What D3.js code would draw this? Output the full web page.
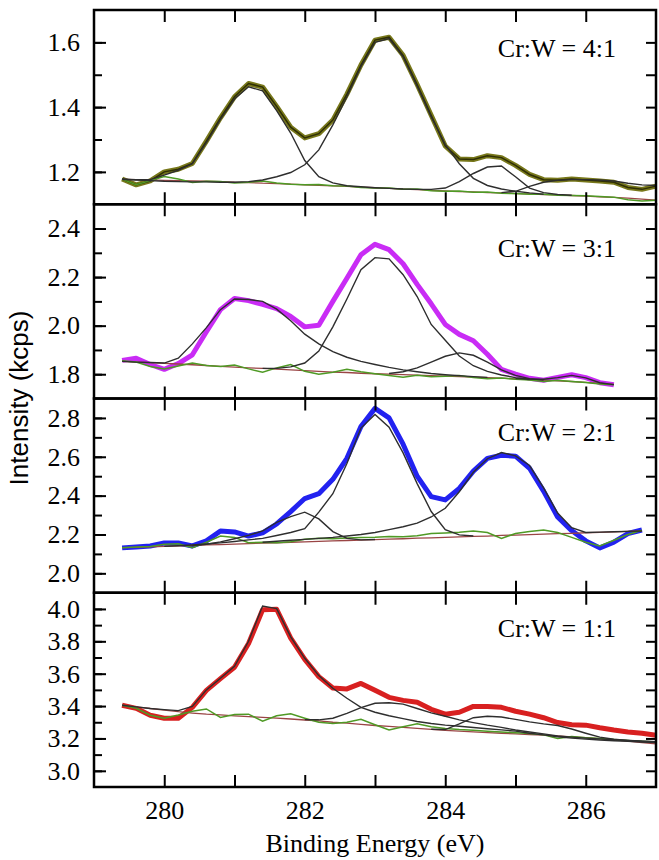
<!DOCTYPE html>
<html>
<head>
<meta charset="utf-8">
<script src="https://cdn.jsdelivr.net/npm/d3@7/dist/d3.min.js"></script>
<style>
  body { margin: 0; background: #fff; }
  svg { display: block; }
</style>
</head>
<body>
<svg id="chart" width="659" height="860"></svg>
<script>
// binding energy grid (eV), shared by every series
const energy = [279.4, 279.6, 279.8, 280.0, 280.2, 280.4, 280.6, 280.8, 281.0, 281.2,
                281.4, 281.6, 281.8, 282.0, 282.2, 282.4, 282.6, 282.8, 283.0, 283.2,
                283.4, 283.6, 283.8, 284.0, 284.2, 284.4, 284.6, 284.8, 285.0, 285.2,
                285.4, 285.6, 285.8, 286.0, 286.2, 286.4, 286.6, 286.8, 287.0];

const ratioLabels = ["Cr:W = 4:1", "Cr:W = 3:1", "Cr:W = 2:1", "Cr:W = 1:1"];
const yDomains = [[1.1, 1.7], [1.7, 2.5], [1.9, 2.9], [2.9, 4.1]];
const yMajorTicks = [[1.2, 1.4, 1.6], [1.8, 2.0, 2.2, 2.4], [2.0, 2.2, 2.4, 2.6, 2.8],
                     [3.0, 3.2, 3.4, 3.6, 3.8, 4.0]];
const xTicks = [280, 281, 282, 283, 284, 285, 286];
const xTickLabels = [280, 282, 284, 286];

// Cr:W = 4:1
const spec41 = [1.178, 1.160, 1.172, 1.200, 1.208, 1.226, 1.295, 1.367, 1.432, 1.473,
                1.462, 1.402, 1.338, 1.305, 1.318, 1.360, 1.440, 1.530, 1.607, 1.616,
                1.560, 1.470, 1.375, 1.280, 1.240, 1.238, 1.250, 1.244, 1.220, 1.192,
                1.176, 1.174, 1.178, 1.175, 1.172, 1.168, 1.152, 1.146, 1.156];
const bg41 = [1.177, 1.176, 1.175, 1.174, 1.173, 1.172, 1.171, 1.170, 1.168, 1.167,
              1.165, 1.164, 1.162, 1.160, 1.158, 1.157, 1.155, 1.153, 1.151, 1.149,
              1.147, 1.145, 1.143, 1.141, 1.139, 1.138, 1.136, 1.135, 1.133, 1.132,
              1.130, 1.129, 1.127, 1.125, 1.123, 1.121, 1.119, 1.116, 1.113];
const res41 = [1.178, 1.160, 1.173, 1.186, 1.178, 1.167, 1.171, 1.170, 1.166, 1.168,
               1.172, 1.166, 1.162, 1.160, 1.161, 1.157, 1.156, 1.152, 1.150, 1.150,
               1.146, 1.147, 1.142, 1.140, 1.141, 1.137, 1.138, 1.134, 1.133, 1.131,
               1.131, 1.128, 1.127, 1.126, 1.124, 1.122, 1.114, 1.110, 1.112];
const peaks41 = [
  [279.4, [1.177, 1.176, 1.176, 1.190, 1.205, 1.225, 1.290, 1.362, 1.425, 1.463,
           1.450, 1.389, 1.320, 1.235, 1.185, 1.166, 1.157, 1.154, 1.151]],
  [279.4, [1.177, 1.175, 1.173, 1.171, 1.170, 1.169, 1.169, 1.168, 1.168, 1.170,
           1.175, 1.185, 1.198, 1.222, 1.268, 1.345, 1.432, 1.525, 1.600, 1.612,
           1.555, 1.465, 1.370, 1.285, 1.225, 1.180, 1.158, 1.147, 1.140, 1.135, 1.131]],
  [283.0, [1.151, 1.149, 1.147, 1.146, 1.146, 1.150, 1.170, 1.195, 1.215, 1.218,
           1.185, 1.150, 1.136, 1.130, 1.128]],
  [284.8, [1.136, 1.140, 1.155, 1.168, 1.174, 1.176, 1.176, 1.175, 1.172, 1.165,
           1.160, 1.158]]
];

// Cr:W = 3:1
const spec31 = [1.857, 1.866, 1.840, 1.820, 1.844, 1.880, 1.975, 2.066, 2.112, 2.103,
                2.088, 2.070, 2.038, 1.995, 2.002, 2.100, 2.195, 2.292, 2.335, 2.313,
                2.255, 2.170, 2.090, 2.005, 1.964, 1.938, 1.882, 1.820, 1.800, 1.783,
                1.775, 1.787, 1.798, 1.786, 1.765, 1.757];
const bg31 = [1.853, 1.850, 1.848, 1.845, 1.842, 1.839, 1.836, 1.832, 1.829, 1.826,
              1.824, 1.821, 1.818, 1.815, 1.812, 1.809, 1.807, 1.804, 1.802, 1.800,
              1.798, 1.796, 1.794, 1.792, 1.790, 1.788, 1.786, 1.784, 1.781, 1.778,
              1.776, 1.773, 1.770, 1.766, 1.762, 1.758];
const res31 = [1.855, 1.850, 1.832, 1.822, 1.834, 1.846, 1.836, 1.832, 1.838, 1.822,
               1.808, 1.826, 1.840, 1.812, 1.800, 1.808, 1.820, 1.810, 1.802, 1.795,
               1.788, 1.796, 1.790, 1.792, 1.795, 1.786, 1.781, 1.784, 1.779, 1.776,
               1.770, 1.775, 1.770, 1.766, 1.760, 1.757];
const peaks31 = [
  [279.4, [1.853, 1.850, 1.848, 1.846, 1.866, 1.925, 1.992, 2.066, 2.110, 2.108,
           2.100, 2.068, 2.020, 1.965, 1.925, 1.893, 1.870, 1.853, 1.840, 1.828,
           1.818, 1.810, 1.803, 1.798, 1.794, 1.790, 1.787]],
  [281.4, [1.824, 1.824, 1.830, 1.846, 1.895, 1.995, 2.110, 2.230, 2.280, 2.275,
           2.210, 2.120, 2.005, 1.940, 1.875, 1.835, 1.812, 1.797, 1.786, 1.779]],
  [283.2, [1.803, 1.810, 1.826, 1.850, 1.874, 1.888, 1.878, 1.850, 1.818, 1.795,
           1.782, 1.776]],
  [285.0, [1.782, 1.780, 1.779, 1.786, 1.795, 1.785, 1.765, 1.757]]
];

// Cr:W = 2:1
const spec21 = [2.131, 2.136, 2.141, 2.156, 2.156, 2.141, 2.167, 2.218, 2.213, 2.192,
                2.208, 2.254, 2.318, 2.385, 2.410, 2.484, 2.592, 2.756, 2.849, 2.800,
                2.665, 2.500, 2.395, 2.378, 2.437, 2.526, 2.592, 2.608, 2.603, 2.541,
                2.423, 2.290, 2.220, 2.167, 2.131, 2.160, 2.205, 2.223];
const bg21 = [2.132, 2.134, 2.136, 2.139, 2.141, 2.143, 2.146, 2.148, 2.150, 2.153,
              2.155, 2.157, 2.160, 2.162, 2.164, 2.167, 2.169, 2.171, 2.174, 2.176,
              2.178, 2.181, 2.183, 2.185, 2.188, 2.190, 2.192, 2.195, 2.197, 2.199,
              2.202, 2.204, 2.206, 2.209, 2.211, 2.213, 2.216, 2.218];
const res21 = [2.132, 2.135, 2.138, 2.150, 2.152, 2.132, 2.160, 2.192, 2.185, 2.158,
               2.160, 2.158, 2.162, 2.175, 2.180, 2.178, 2.182, 2.185, 2.186, 2.190,
               2.188, 2.193, 2.205, 2.208, 2.212, 2.218, 2.210, 2.180, 2.205, 2.215,
               2.223, 2.210, 2.185, 2.160, 2.141, 2.170, 2.200, 2.222];
const peaks21 = [
  [280.4, [2.143, 2.150, 2.162, 2.178, 2.195, 2.218, 2.262, 2.292, 2.315, 2.280,
           2.215, 2.180, 2.172, 2.174]],
  [280.0, [2.139, 2.142, 2.146, 2.151, 2.157, 2.164, 2.172, 2.180, 2.195, 2.210,
           2.230, 2.315, 2.410, 2.565, 2.748, 2.818, 2.752, 2.620, 2.462, 2.318,
           2.225, 2.198, 2.192]],
  [281.4, [2.160, 2.165, 2.170, 2.175, 2.180, 2.185, 2.192, 2.200, 2.210, 2.225,
           2.240, 2.258, 2.290, 2.335, 2.420, 2.520, 2.590, 2.622, 2.605, 2.555,
           2.440, 2.310, 2.235, 2.210, 2.212, 2.214, 2.216, 2.218]]
];

// Cr:W = 1:1
const spec11 = [3.405, 3.386, 3.343, 3.325, 3.325, 3.392, 3.497, 3.570, 3.640, 3.786,
                3.995, 3.998, 3.820, 3.688, 3.582, 3.512, 3.506, 3.540, 3.497, 3.454,
                3.435, 3.423, 3.380, 3.350, 3.362, 3.398, 3.398, 3.392, 3.368, 3.350,
                3.328, 3.298, 3.284, 3.282, 3.266, 3.252, 3.240, 3.232, 3.220];
const bg11 = [3.405, 3.395, 3.385, 3.375, 3.365, 3.357, 3.350, 3.345, 3.340, 3.335,
              3.330, 3.325, 3.320, 3.314, 3.308, 3.300, 3.294, 3.287, 3.280, 3.274,
              3.268, 3.262, 3.256, 3.250, 3.245, 3.240, 3.236, 3.232, 3.228, 3.224,
              3.220, 3.215, 3.210, 3.205, 3.198, 3.191, 3.183, 3.175, 3.167];
const res11 = [3.405, 3.386, 3.343, 3.325, 3.345, 3.368, 3.382, 3.330, 3.348, 3.350,
               3.306, 3.340, 3.352, 3.325, 3.300, 3.292, 3.300, 3.318, 3.285, 3.252,
               3.272, 3.290, 3.272, 3.262, 3.255, 3.250, 3.245, 3.240, 3.235, 3.230,
               3.222, 3.200, 3.212, 3.205, 3.200, 3.194, 3.188, 3.182, 3.178];
const peaks11 = [
  [279.4, [3.405, 3.395, 3.385, 3.378, 3.372, 3.398, 3.500, 3.572, 3.645, 3.800,
           4.018, 4.002, 3.828, 3.695, 3.588, 3.510, 3.448, 3.392, 3.362, 3.340,
           3.322, 3.305, 3.292, 3.282, 3.275, 3.268, 3.260, 3.253, 3.245, 3.232,
           3.222, 3.210, 3.202, 3.196, 3.190, 3.186, 3.182, 3.178, 3.175]],
  [282.0, [3.316, 3.315, 3.325, 3.355, 3.390, 3.417, 3.420, 3.412, 3.385, 3.358,
           3.337, 3.315, 3.298, 3.282, 3.268, 3.252, 3.240, 3.228, 3.215, 3.208,
           3.202, 3.197, 3.192, 3.188, 3.184, 3.180]],
  [283.8, [3.257, 3.255, 3.290, 3.328, 3.337, 3.332, 3.318, 3.302, 3.290, 3.280,
           3.258, 3.232, 3.208, 3.195, 3.187, 3.180, 3.176]]
];

const spectra = [spec41, spec31, spec21, spec11];
const backgrounds = [bg41, bg31, bg21, bg11];
const residuals = [res41, res31, res21, res11];
const peaks = [peaks41, peaks31, peaks21, peaks11];
const spectrumColors = ["#77771a", "#c92cf5", "#2222f0", "#d82020"];

// place a list of values on the energy grid, starting at a given energy
function onGrid(start, values) {
    var out = energy.map(() => null);
    var i0 = energy.findIndex(e => Math.abs(e - start) < 1e-6);
    values.forEach((v, k) => { out[i0 + k] = v; });
    return out;
}

const svg = d3.select("#chart");
const left = 94, right = 656, top0 = 10, panelH = 194.25;
const serif = "'Liberation Serif', 'Times New Roman', serif";

const x = d3.scaleLinear().domain([279, 287]).range([left, right]);

function drawPanel(i) {
    var y0 = top0 + i * panelH;
    var y = d3.scaleLinear().domain(yDomains[i]).range([y0 + panelH, y0]);
    var g = svg.append("g");

    var line = d3.line()
        .defined(d => d[1] !== null)
        .x(d => x(d[0]))
        .y(d => y(d[1]));
    var pairs = vals => energy.map((e, k) => [e, vals[k]]);

    // measured spectrum (thick)
    var spec = onGrid(279.4, spectra[i]);
    g.append("path")
        .datum(pairs(spec))
        .attr("d", line)
        .attr("fill", "none")
        .attr("stroke", spectrumColors[i])
        .attr("stroke-width", 5)
        .attr("stroke-linejoin", "round");
    if (i === 0) {
        // olive trace has a dark core (fit envelope drawn on top)
        g.append("path")
            .datum(pairs(spec))
            .attr("d", line)
            .attr("fill", "none")
            .attr("stroke", "#2f2f05")
            .attr("stroke-width", 1.5);
    }

    // background
    g.append("path")
        .datum(pairs(onGrid(279.4, backgrounds[i])))
        .attr("d", line)
        .attr("fill", "none")
        .attr("stroke", "#9a4545")
        .attr("stroke-width", 1.3);

    // residual
    g.append("path")
        .datum(pairs(onGrid(279.4, residuals[i])))
        .attr("d", line)
        .attr("fill", "none")
        .attr("stroke", "#4f9a25")
        .attr("stroke-width", 1.5);

    // fitted components
    peaks[i].forEach(p => {
        g.append("path")
            .datum(pairs(onGrid(p[0], p[1])))
            .attr("d", line)
            .attr("fill", "none")
            .attr("stroke", "#2e2e2e")
            .attr("stroke-width", 1.4);
    });

    // axes with inward ticks
    var lo = yDomains[i][0], hi = yDomains[i][1];
    var minor = d3.range(Math.round(lo * 10) + 1, Math.round(hi * 10)).map(v => v / 10);

    var styleAxis = a => {
        a.attr("font-family", null).attr("font-size", null);
        a.select(".domain").remove();
        a.selectAll("line").attr("stroke", "#000").attr("stroke-width", 2);
        a.selectAll("text")
            .style("font-family", serif)
            .style("font-size", "26px")
            .attr("fill", "#000");
    };

    g.append("g").attr("transform", `translate(${left},0)`)
        .call(d3.axisLeft(y).tickValues(minor).tickSize(-8).tickFormat(""))
        .call(styleAxis);
    g.append("g").attr("transform", `translate(${left},0)`)
        .call(d3.axisLeft(y).tickValues(yMajorTicks[i]).tickSize(-12).tickPadding(14)
            .tickFormat(d3.format(".1f")))
        .call(styleAxis);
    g.append("g").attr("transform", `translate(${right},0)`)
        .call(d3.axisRight(y).tickValues(minor).tickSize(-10).tickFormat(""))
        .call(styleAxis);
    g.append("g").attr("transform", `translate(0,${y0})`)
        .call(d3.axisTop(x).tickValues(xTicks).tickSize(-12).tickFormat(""))
        .call(styleAxis);
    g.append("g").attr("transform", `translate(0,${y0 + panelH})`)
        .call(d3.axisBottom(x).tickValues(xTicks).tickSize(-12).tickPadding(14)
            .tickFormat(d => (i === 3 && xTickLabels.includes(d)) ? d : ""))
        .call(styleAxis);

    g.append("rect")
        .attr("x", left).attr("y", y0)
        .attr("width", right - left).attr("height", panelH)
        .attr("fill", "none")
        .attr("stroke", "#000")
        .attr("stroke-width", 2.5);

    g.append("text")
        .attr("x", 616)
        .attr("y", [57, 257, 441, 637][i])
        .attr("text-anchor", "end")
        .style("font-family", serif)
        .style("font-size", "26px")
        .text(ratioLabels[i]);
}

for (var i = 0; i < 4; i++) drawPanel(i);

svg.append("text")
    .attr("transform", "translate(28,398) rotate(-90)")
    .attr("text-anchor", "middle")
    .style("font-family", "'Liberation Sans', Arial, sans-serif")
    .style("font-size", "26px")
    .text("Intensity (kcps)");

svg.append("text")
    .attr("x", (left + right) / 2)
    .attr("y", 852)
    .attr("text-anchor", "middle")
    .style("font-family", serif)
    .style("font-size", "26px")
    .text("Binding Energy (eV)");
</script>
</body>
</html>
